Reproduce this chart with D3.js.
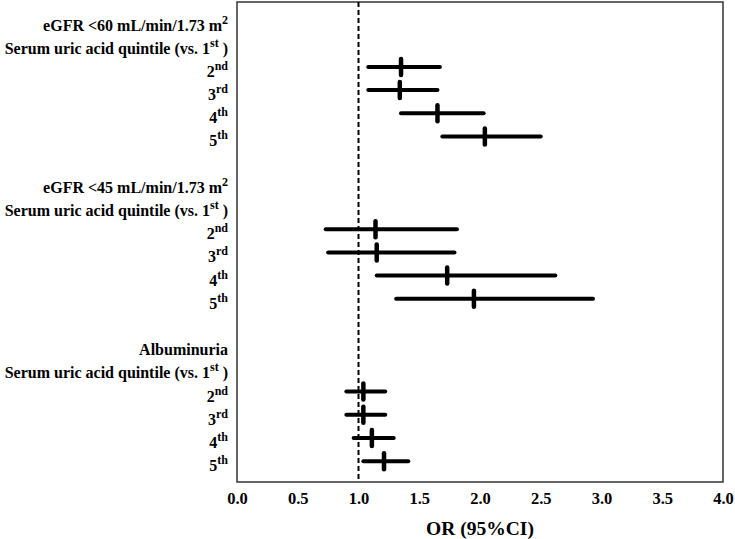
<!DOCTYPE html>
<html>
<head>
<meta charset="utf-8">
<script src="https://cdn.jsdelivr.net/npm/d3@7"></script>
<style>
  body { margin: 0; background: #fff; }
  text { font-family: "Liberation Serif", "Times New Roman", serif; font-weight: bold; fill: #000; }
</style>
</head>
<body>
<div id="chart"></div>
<script>
// outcome headers (main text, superscript)
var outcomes = [
    ["eGFR <60 mL/min/1.73 m", "2"],
    ["eGFR <45 mL/min/1.73 m", "2"],
    ["Albuminuria", ""]
];
var quintiles = ["2", "3", "4", "5"];
var suffixes = ["nd", "rd", "th", "th"];

// odds ratios and 95% CI, one array per outcome
var orValues = [
    [1.35, 1.34, 1.65, 2.04],
    [1.14, 1.15, 1.73, 1.95],
    [1.04, 1.04, 1.11, 1.21]
];
var lowerCI = [
    [1.08, 1.08, 1.35, 1.69],
    [0.73, 0.75, 1.15, 1.31],
    [0.90, 0.90, 0.96, 1.04]
];
var upperCI = [
    [1.67, 1.65, 2.03, 2.50],
    [1.81, 1.79, 2.62, 2.93],
    [1.22, 1.22, 1.29, 1.41]
];
var xTicks = [0, 0.5, 1, 1.5, 2, 2.5, 3, 3.5, 4];

var width = 735, height = 539;
var plot = { left: 237, right: 723, top: 2, bottom: 482 };

var svg = d3.select("#chart").append("svg")
    .attr("width", width)
    .attr("height", height);

var x = d3.scaleLinear()
    .domain([0, 4])
    .range([plot.left, plot.right]);

// each outcome takes 7 rows: header, "Serum uric acid..." line, 4 quintiles, blank
var y = d3.scaleLinear()
    .domain([-0.8, 19.9])
    .range([plot.top, plot.bottom]);

// build the row list
var rows = [];
outcomes.forEach(function (o, g) {
    var base = g * 7;
    rows.push({ type: "header", pos: base, g: g });
    rows.push({ type: "serum", pos: base + 1, g: g });
    quintiles.forEach(function (q, i) {
        rows.push({
            type: "q", pos: base + 2 + i, g: g, i: i,
            or: orValues[g][i], lo: lowerCI[g][i], hi: upperCI[g][i]
        });
    });
});

// frame
svg.append("rect")
    .attr("x", plot.left)
    .attr("y", plot.top)
    .attr("width", plot.right - plot.left)
    .attr("height", plot.bottom - plot.top)
    .style("fill", "none")
    .style("stroke", "#333")
    .style("stroke-width", 1.5);

// reference line at OR = 1
svg.append("line")
    .attr("x1", x(1)).attr("x2", x(1))
    .attr("y1", plot.top).attr("y2", plot.bottom)
    .style("stroke", "#000")
    .style("stroke-width", 2)
    .style("stroke-dasharray", "5,3");

// x axis
var xAxis = d3.axisBottom(x)
    .tickValues(xTicks)
    .tickSize(0)
    .tickPadding(0)
    .tickFormat(d3.format(".1f"));

var gx = svg.append("g")
    .attr("transform", "translate(0," + plot.bottom + ")")
    .call(xAxis);
gx.select(".domain").remove();
gx.selectAll("text")
    .attr("y", 22)
    .attr("dy", 0)
    .style("font-family", "'Liberation Serif', serif")
    .style("font-weight", "bold")
    .style("font-size", "16.5px")
    .style("fill", "#000");

svg.append("text")
    .attr("x", (plot.left + plot.right) / 2)
    .attr("y", 535)
    .attr("text-anchor", "middle")
    .style("font-size", "19.5px")
    .text("OR (95%CI)");

var quint = rows.filter(function (d) { return d.type === "q"; });

// CI lines
svg.selectAll("line.ci")
    .data(quint)
    .enter().append("line")
    .attr("class", "ci")
    .attr("x1", function (d) { return x(d.lo); })
    .attr("x2", function (d) { return x(d.hi); })
    .attr("y1", function (d) { return y(d.pos); })
    .attr("y2", function (d) { return y(d.pos); })
    .style("stroke", "#000")
    .style("stroke-width", 4)
    .style("stroke-linecap", "round");

// point estimates
svg.selectAll("line.est")
    .data(quint)
    .enter().append("line")
    .attr("class", "est")
    .attr("x1", function (d) { return x(d.or); })
    .attr("x2", function (d) { return x(d.or); })
    .attr("y1", function (d) { return y(d.pos) - 8; })
    .attr("y2", function (d) { return y(d.pos) + 8; })
    .style("stroke", "#000")
    .style("stroke-width", 4.5)
    .style("stroke-linecap", "round");

// row labels
var labelX = 228;
var labels = svg.selectAll("text.row")
    .data(rows)
    .enter().append("text")
    .attr("class", "row")
    .attr("x", labelX)
    .attr("y", function (d) { return y(d.pos) + 10; })
    .attr("text-anchor", "end")
    .style("font-size", "16px");

labels.each(function (d) {
    var t = d3.select(this);
    if (d.type === "header") {
        t.append("tspan").text(outcomes[d.g][0]);
        if (outcomes[d.g][1]) {
            t.append("tspan").attr("dy", -7).style("font-size", "12px").text(outcomes[d.g][1]);
        }
    } else if (d.type === "serum") {
        t.append("tspan").text("Serum uric acid quintile (vs. 1");
        t.append("tspan").attr("dy", -7).style("font-size", "12px").text("st");
        t.append("tspan").attr("dy", 7).text(" )");
    } else {
        t.append("tspan").text(quintiles[d.i]);
        t.append("tspan").attr("dy", -7).style("font-size", "12px").text(suffixes[d.i]);
    }
});
</script>
</body>
</html>
